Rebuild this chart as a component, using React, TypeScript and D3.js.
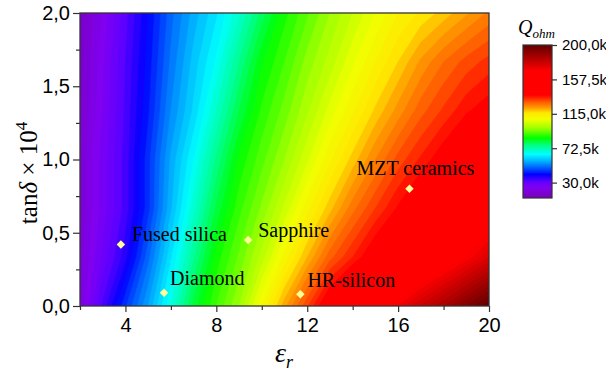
import { useEffect, useRef } from 'react';
import * as d3 from 'd3';

// grid of Q_ohm (in k): columns = epsilon_r, rows = tan delta x 10^4
const epsR = [2, 3, 4, 5, 6, 7, 8, 9, 10, 11, 12, 13, 14, 15, 16, 17, 18, 19, 20];
const tanRows = [0, 0.3333, 0.6667, 1, 1.3333, 1.6667, 2];
const qRow0 = [20, 33, 44.5, 55, 67.5, 81, 90, 97.5, 110, 121.5, 132, 143, 152, 161, 170, 178, 185, 193, 200];
const qRow1 = [19, 28, 36.5, 49, 62, 74.5, 86, 93, 101, 111, 120, 129, 135, 141.5, 148, 155, 161.5, 168, 175];
const qRow2 = [18, 26, 33.5, 44, 57, 69, 80.5, 89, 95.5, 103, 111.5, 119, 126.5, 132.5, 138, 143.5, 149, 154.5, 160];
const qRow3 = [18, 26, 33.5, 44, 55.5, 65, 75.5, 85.5, 91.5, 97.5, 104.5, 112, 118.5, 125, 131, 135.5, 140, 145, 150];
const qRow4 = [17, 25, 33, 42, 52.5, 60.5, 70, 80, 88, 93.5, 99.5, 106, 112, 118, 123.5, 129, 133, 137, 139.5];
const qRow5 = [16, 24.5, 32.5, 41, 50.5, 58.5, 65.5, 75, 84.5, 90, 96, 101, 107, 112.5, 117.5, 123, 127.5, 131, 133.5];
const qRow6 = [15, 23, 31.5, 40, 49, 56, 62, 69.5, 78.5, 86.5, 92, 97.5, 102.5, 107.5, 112.5, 115.5, 118.5, 122, 125.5];

// colour map (Origin style rainbow)
const cmapValues = [11, 24, 31, 40, 50, 58, 65, 75, 85, 97.5, 108, 116, 122, 129, 138, 168, 200];
const cmapColors = ['#7800b8', '#8000f0', '#6000ff', '#0000ff', '#0070ff', '#00c0ff', '#00ffff', '#00ff90',
    '#00ff00', '#a0ff00', '#f0ff00', '#ffe800', '#ffa000', '#ff6000', '#ff0000', '#ff0000', '#600000'];
const colorTicks = [30, 72.5, 115, 157.5, 200];

// materials
const matNames = ['Fused silica', 'Sapphire', 'Diamond', 'HR-silicon', 'MZT ceramics'];
const matEps = [3.8, 9.4, 5.7, 11.7, 16.5];
const matTan = [0.42, 0.45, 0.09, 0.08, 0.8];

const xTicks = [4, 8, 12, 16, 20];
const xMinor = [2, 6, 10, 14, 18];
const yTicks = [0, 0.5, 1, 1.5, 2];
const yMinor = [0.25, 0.75, 1.25, 1.75];

const App = () => {
    const ref = useRef<SVGSVGElement>(null);

    useEffect(() => {
        const svg = d3.select(ref.current);
        svg.selectAll("*").remove();

        const margin = { top: 13, left: 80, right: 489, bottom: 306 };
        const x = d3.scaleLinear().domain([2, 20]).range([margin.left, margin.right]);
        const y = d3.scaleLinear().domain([0, 2]).range([margin.bottom, margin.top]);
        const color = d3.scaleLinear<string>().domain(cmapValues).range(cmapColors)
            .interpolate(d3.interpolateRgb).clamp(true);

        svg.append("defs").append("clipPath").attr("id", "plot-clip")
            .append("rect")
            .attr("x", margin.left).attr("y", margin.top)
            .attr("width", margin.right - margin.left).attr("height", margin.bottom - margin.top);

        // filled contours
        const nx = epsR.length, ny = tanRows.length;
        const dEps = epsR[1] - epsR[0], dTan = tanRows[1] - tanRows[0];
        const values = [qRow0, qRow1, qRow2, qRow3, qRow4, qRow5, qRow6].flat();
        const step = 2.5;
        const levels = d3.range(0, 205, step);
        const bands = d3.contours().size([nx, ny]).thresholds(levels)(values);
        const proj = d3.geoTransform({
            point(px: number, py: number) {
                this.stream.point(x(epsR[0] + (px - 0.5) * dEps), y(tanRows[0] + (py - 0.5) * dTan));
            }
        });
        const path = d3.geoPath(proj);

        svg.append("g").attr("clip-path", "url(#plot-clip)")
            .selectAll("path")
            .data(bands)
            .join("path")
            .attr("d", path as any)
            .attr("fill", (d) => color(d.value + step / 2))
            .attr("stroke", (d) => color(d.value + step / 2))
            .attr("stroke-width", 0.6);

        // frame
        svg.append("rect")
            .attr("x", margin.left).attr("y", margin.top)
            .attr("width", margin.right - margin.left).attr("height", margin.bottom - margin.top)
            .attr("fill", "none").attr("stroke", "#333").attr("stroke-width", 1.3);

        const fmt = (v: number) => d3.format(".1f")(v).replace(".", ",");

        // x axis
        const xAxis = svg.append("g")
            .attr("transform", "translate(0," + margin.bottom + ")")
            .call(d3.axisBottom(x).tickValues(xTicks).tickSize(6).tickPadding(6).tickFormat((d) => String(d)));
        svg.append("g")
            .attr("transform", "translate(0," + margin.bottom + ")")
            .call(d3.axisBottom(x).tickValues(xMinor).tickSize(4).tickFormat(() => ""))
            .select(".domain").remove();
        xAxis.select(".domain").remove();

        // y axis
        const yAxis = svg.append("g")
            .attr("transform", "translate(" + margin.left + ",0)")
            .call(d3.axisLeft(y).tickValues(yTicks).tickSize(7).tickPadding(3).tickFormat((d) => fmt(+d)));
        svg.append("g")
            .attr("transform", "translate(" + margin.left + ",0)")
            .call(d3.axisLeft(y).tickValues(yMinor).tickSize(4).tickFormat(() => ""))
            .select(".domain").remove();
        yAxis.select(".domain").remove();

        svg.selectAll(".tick line").attr("stroke", "#333").attr("stroke-width", 1.2);
        svg.selectAll(".tick text")
            .style("font-family", "'Liberation Sans', Arial, sans-serif")
            .style("font-size", "20px")
            .attr("fill", "#000");

        // materials
        const marks = svg.append("g");
        const labelOffsets = [[11, -3], [10, -3], [6, -8], [7, -7], [-53, -14]];
        matNames.forEach((name, i) => {
            const px = x(matEps[i]), py = y(matTan[i]);
            marks.append("path")
                .attr("d", d3.symbol(d3.symbolSquare, 36)() as string)
                .attr("transform", "translate(" + px + "," + py + ") rotate(45)")
                .attr("fill", "#ffff99");
            marks.append("text")
                .attr("x", px + labelOffsets[i][0])
                .attr("y", py + labelOffsets[i][1])
                .style("font-family", "'Liberation Serif', 'Times New Roman', serif")
                .style("font-size", "20px")
                .attr("fill", "#000")
                .text(name);
        });

        // axis titles
        const xt = svg.append("text")
            .attr("x", 284).attr("y", 362)
            .attr("text-anchor", "middle")
            .style("font-family", "'Liberation Serif', 'Times New Roman', serif")
            .style("font-size", "28px")
            .style("font-style", "italic");
        xt.append("tspan").text("ε");
        xt.append("tspan").attr("dy", 6).style("font-size", "18px").text("r");

        const yt = svg.append("text")
            .attr("transform", "translate(37,173) rotate(-90)")
            .attr("text-anchor", "middle")
            .style("font-family", "'Liberation Serif', 'Times New Roman', serif")
            .style("font-size", "25px");
        yt.append("tspan").text("tan");
        yt.append("tspan").style("font-style", "italic").text("δ");
        yt.append("tspan").text(" × 10");
        yt.append("tspan").attr("dy", -10).style("font-size", "17px").text("4");

        // colour bar
        const cb = { x: 523, w: 29, top: 45, bottom: 198 };
        const cy = d3.scaleLinear().domain([11, 200]).range([cb.bottom, cb.top]);
        const grad = svg.select("defs").append("linearGradient")
            .attr("id", "cbar").attr("x1", 0).attr("y1", 1).attr("x2", 0).attr("y2", 0);
        cmapValues.forEach((v, i) => {
            grad.append("stop")
                .attr("offset", (v - 11) / (200 - 11))
                .attr("stop-color", cmapColors[i]);
        });
        svg.append("rect")
            .attr("x", cb.x).attr("y", cb.top).attr("width", cb.w).attr("height", cb.bottom - cb.top)
            .attr("fill", "url(#cbar)").attr("stroke", "#333").attr("stroke-width", 1.2);
        const cAxis = svg.append("g")
            .attr("transform", "translate(" + (cb.x + cb.w) + ",0)")
            .call(d3.axisRight(cy).tickValues(colorTicks).tickSize(5).tickPadding(5)
                .tickFormat((d) => fmt(+d) + "k"));
        cAxis.select(".domain").remove();
        cAxis.selectAll(".tick line").attr("stroke", "#333").attr("stroke-width", 1.2);
        cAxis.selectAll(".tick text")
            .style("font-family", "'Liberation Sans', Arial, sans-serif")
            .style("font-size", "15px")
            .attr("fill", "#000");

        const qt = svg.append("text")
            .attr("x", 518).attr("y", 34)
            .style("font-family", "'Liberation Serif', 'Times New Roman', serif")
            .style("font-style", "italic")
            .style("font-size", "20px");
        qt.append("tspan").text("Q");
        qt.append("tspan").attr("dy", 4).style("font-size", "13px").text("ohm");
    }, []);

    return (
        <div style={{ position: "absolute", left: 0, top: 0 }}>
            <svg ref={ref} width={606} height={374} style={{ display: "block", background: "#fff" }} />
        </div>
    );
};

export default App;
